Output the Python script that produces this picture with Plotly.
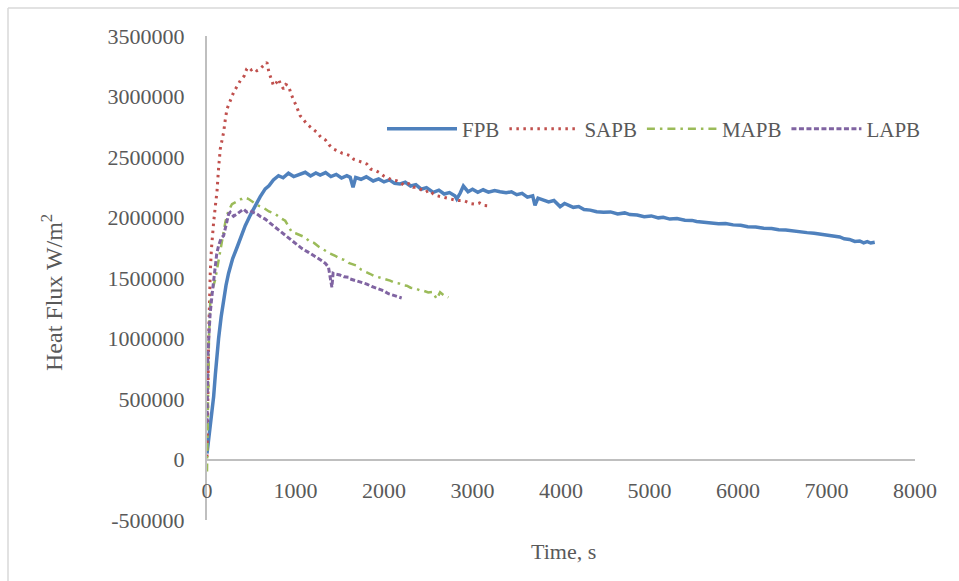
import plotly.graph_objects as go

# ---------------- data ----------------
fpb_t = [0, 10, 25, 50, 75, 94, 115, 131, 160, 188, 215, 244, 290, 338, 385, 432, 490, 545, 600, 658,
         700, 750, 808, 860, 920, 980, 1053, 1110, 1170, 1230, 1279, 1340, 1400, 1460, 1520, 1580, 1618,
         1650, 1680, 1740, 1800, 1878, 1940, 2000, 2060, 2120, 2182, 2240, 2300, 2360, 2420, 2480, 2557,
         2620, 2680, 2740, 2800, 2822, 2860, 2897, 2950, 3000, 3060, 3120, 3180, 3250, 3311, 3380, 3440,
         3500, 3560, 3620, 3680, 3706, 3740, 3800, 3860, 3920, 3990, 4040, 4100, 4139, 4200, 4260, 4330,
         4403, 4480, 4560, 4640, 4720, 4779, 4860, 4940, 5020, 5100, 5155, 5230, 5310, 5400, 5480, 5532,
         5620, 5700, 5780, 5860, 5945, 6030, 6110, 6200, 6290, 6380, 6460, 6540, 6620, 6698, 6780, 6860,
         6940, 7020, 7100, 7150, 7200, 7260, 7320, 7375, 7420, 7460, 7500, 7545]
fpb_v = [50000, 110000, 170000, 330000, 520000, 700000, 880000, 1000000, 1180000, 1320000, 1440000,
         1540000, 1660000, 1750000, 1845000, 1932000, 2020000, 2097000, 2170000, 2237000, 2262000,
         2310000, 2345000, 2328000, 2366000, 2338000, 2360000, 2374000, 2343000, 2368000, 2350000,
         2371000, 2338000, 2356000, 2326000, 2346000, 2332000, 2250000, 2330000, 2316000, 2336000,
         2302000, 2319000, 2294000, 2311000, 2282000, 2277000, 2291000, 2260000, 2272000, 2234000,
         2247000, 2208000, 2226000, 2194000, 2206000, 2180000, 2153000, 2200000, 2260000, 2213000,
         2233000, 2208000, 2229000, 2210000, 2223000, 2213000, 2204000, 2213000, 2188000, 2199000,
         2168000, 2179000, 2100000, 2160000, 2143000, 2129000, 2141000, 2090000, 2116000, 2099000,
         2084000, 2091000, 2066000, 2061000, 2047000, 2043000, 2046000, 2029000, 2038000, 2024000,
         2021000, 2007000, 2013000, 1997000, 2002000, 1987000, 1991000, 1977000, 1976000, 1967000,
         1961000, 1954000, 1948000, 1951000, 1939000, 1936000, 1924000, 1922000, 1911000, 1909000,
         1899000, 1897000, 1888000, 1885000, 1875000, 1869000, 1860000, 1853000, 1844000, 1839000,
         1824000, 1819000, 1802000, 1806000, 1791000, 1801000, 1789000, 1795000]

sapb_t = [0, 8, 12, 18, 25, 37, 50, 62, 75, 95, 113, 130, 150, 170, 188, 205, 226, 260, 301, 340, 376,
          420, 450, 470, 500, 530, 564, 600, 639, 677, 700, 730, 752, 780, 808, 835, 865, 890, 921, 950,
          978, 1010, 1053, 1090, 1129, 1180, 1242, 1290, 1340, 1380, 1429, 1480, 1530, 1580, 1618, 1660,
          1710, 1760, 1806, 1850, 1900, 1950, 1994, 2040, 2090, 2140, 2182, 2230, 2280, 2330, 2371, 2420,
          2470, 2510, 2558, 2600, 2650, 2700, 2747, 2800, 2850, 2900, 2935, 2980, 3030, 3080, 3130, 3179]
sapb_v = [20000, 300000, 600000, 996000, 1250000, 1547000, 1740000, 1870000, 1960000, 2100000, 2215000,
          2400000, 2566000, 2640000, 2704000, 2800000, 2897000, 2960000, 3035000, 3085000, 3131000,
          3170000, 3230000, 3241000, 3220000, 3235000, 3213000, 3230000, 3254000, 3282000, 3200000,
          3130000, 3089000, 3110000, 3144000, 3095000, 3062000, 3100000, 3089000, 3020000, 2979000,
          2920000, 2841000, 2810000, 2773000, 2740000, 2704000, 2660000, 2640000, 2600000, 2566000,
          2550000, 2530000, 2520000, 2511000, 2480000, 2470000, 2455000, 2442000, 2400000, 2390000,
          2370000, 2345000, 2330000, 2310000, 2305000, 2291000, 2265000, 2280000, 2250000, 2249000,
          2230000, 2210000, 2225000, 2194000, 2180000, 2170000, 2160000, 2153000, 2145000, 2140000,
          2140000, 2130000, 2115000, 2110000, 2120000, 2100000, 2097000]

mapb_t = [0, 5, 12, 22, 37, 60, 94, 120, 150, 180, 207, 240, 282, 330, 370, 395, 430, 470, 520, 583, 640,
          700, 771, 830, 884, 920, 959, 1000, 1050, 1110, 1160, 1210, 1260, 1298, 1350, 1400, 1449, 1500,
          1550, 1600, 1637, 1693, 1740, 1790, 1840, 1881, 1930, 1980, 2030, 2069, 2120, 2170, 2220, 2258,
          2300, 2350, 2400, 2445, 2500, 2550, 2596, 2634, 2680, 2728]
mapb_v = [-100000, 200000, 600000, 1000000, 1299000, 1400000, 1492000, 1600000, 1740000, 1850000,
          1960000, 2050000, 2111000, 2130000, 2150000, 2153000, 2165000, 2153000, 2130000, 2097000,
          2080000, 2050000, 2029000, 1995000, 1973000, 1930000, 1878000, 1870000, 1855000, 1836000,
          1800000, 1790000, 1760000, 1740000, 1720000, 1700000, 1684000, 1660000, 1650000, 1625000,
          1616000, 1602000, 1570000, 1555000, 1535000, 1519000, 1510000, 1495000, 1490000, 1478000,
          1460000, 1455000, 1440000, 1436000, 1420000, 1415000, 1400000, 1395000, 1380000, 1385000,
          1327000, 1382000, 1355000, 1340000]

lapb_t = [0, 3, 6, 10, 20, 35, 56, 75, 94, 110, 131, 160, 188, 205, 226, 245, 263, 300, 338, 380, 413,
          450, 489, 530, 564, 610, 658, 710, 771, 830, 884, 940, 997, 1070, 1147, 1220, 1298, 1340, 1373,
          1411, 1425, 1449, 1500, 1550, 1599, 1618, 1680, 1740, 1806, 1860, 1920, 1994, 2050, 2110, 2150,
          2182, 2200]
lapb_v = [300000, 500000, 700000, 855000, 1000000, 1200000, 1354000, 1470000, 1575000, 1700000,
          1767000, 1830000, 1850000, 1910000, 1960000, 2030000, 2043000, 2010000, 2029000, 2050000,
          2070000, 2045000, 2056000, 2040000, 2029000, 2005000, 1987000, 1955000, 1919000, 1885000,
          1850000, 1815000, 1781000, 1745000, 1712000, 1680000, 1643000, 1620000, 1588000, 1423000,
          1540000, 1533000, 1525000, 1510000, 1506000, 1492000, 1480000, 1465000, 1450000, 1430000,
          1415000, 1395000, 1370000, 1355000, 1345000, 1340000, 1335000]

x_ticks = [0, 1000, 2000, 3000, 4000, 5000, 6000, 7000, 8000]
y_ticks = [-500000, 0, 500000, 1000000, 1500000, 2000000, 2500000, 3000000, 3500000]

# ---------------- figure ----------------
FONT = "Liberation Serif"
GREY = "#595959"
AXC = "#bfbfbf"

fig = go.Figure()
fig.add_trace(go.Scatter(x=fpb_t, y=fpb_v, mode="lines", name="FPB",
                         line=dict(color="#4F81BD", width=3.5)))
fig.add_trace(go.Scatter(x=sapb_t, y=sapb_v, mode="lines", name="SAPB",
                         line=dict(color="#C0504D", width=3, dash="2.5px,4.5px")))
fig.add_trace(go.Scatter(x=mapb_t, y=mapb_v, mode="lines", name="MAPB",
                         line=dict(color="#9BBB59", width=2.5, dash="8px,5px,2.5px,5px")))
fig.add_trace(go.Scatter(x=lapb_t, y=lapb_v, mode="lines", name="LAPB",
                         line=dict(color="#8064A2", width=3, dash="5px,2.5px")))

W, H = 959, 581
L, R, T, B = 207, 44, 36, 61
pw, ph = W - L - R, H - T - B

def px_x(px):
    return (px - L) / pw

def px_y(py):
    return (H - B - py) / ph

fig.update_layout(
    width=W, height=H,
    margin=dict(l=L, r=R, t=T, b=B, pad=0),
    paper_bgcolor="white", plot_bgcolor="white",
    font=dict(family=FONT, color=GREY, size=22),
    showlegend=True,
    legend=dict(orientation="h", x=px_x(382), y=px_y(129), xanchor="left", yanchor="middle",
                font=dict(family=FONT, size=21, color=GREY), bgcolor="rgba(0,0,0,0)",
                itemwidth=70, tracegroupgap=0),
    xaxis=dict(range=[0, 8000], tickvals=x_ticks, ticktext=[str(v) for v in x_ticks],
               showgrid=False, zeroline=False, showline=True, linecolor=AXC, linewidth=2,
               anchor="free", position=0.125, ticks="", ticklabelstandoff=11,
               tickfont=dict(family=FONT, size=22, color=GREY)),
    yaxis=dict(range=[-500000, 3500000], tickvals=y_ticks, ticktext=[str(v) for v in y_ticks],
               showgrid=False, zeroline=False, showline=True, linecolor=AXC, linewidth=2,
               ticks="", ticklabelstandoff=16,
               tickfont=dict(family=FONT, size=22, color=GREY)),
    shapes=[
        dict(type="line", xref="paper", yref="paper", x0=px_x(8), x1=px_x(959), y0=px_y(8), y1=px_y(8),
             line=dict(color="#d9d9d9", width=1.5)),
        dict(type="line", xref="paper", yref="paper", x0=px_x(8), x1=px_x(8), y0=px_y(8), y1=px_y(581),
             line=dict(color="#d9d9d9", width=1.5)),
    ],
    annotations=[
        dict(text="Heat Flux W/m<sup>2</sup>", xref="paper", yref="paper", x=px_x(52), y=px_y(293),
             showarrow=False, textangle=-90, xanchor="center", yanchor="middle",
             font=dict(family=FONT, size=24, color=GREY)),
        dict(text="Time, s", xref="paper", yref="paper", x=px_x(563), y=px_y(551),
             showarrow=False, xanchor="center", yanchor="middle",
             font=dict(family=FONT, size=22, color=GREY)),
    ],
)

fig.write_html("out.html")
